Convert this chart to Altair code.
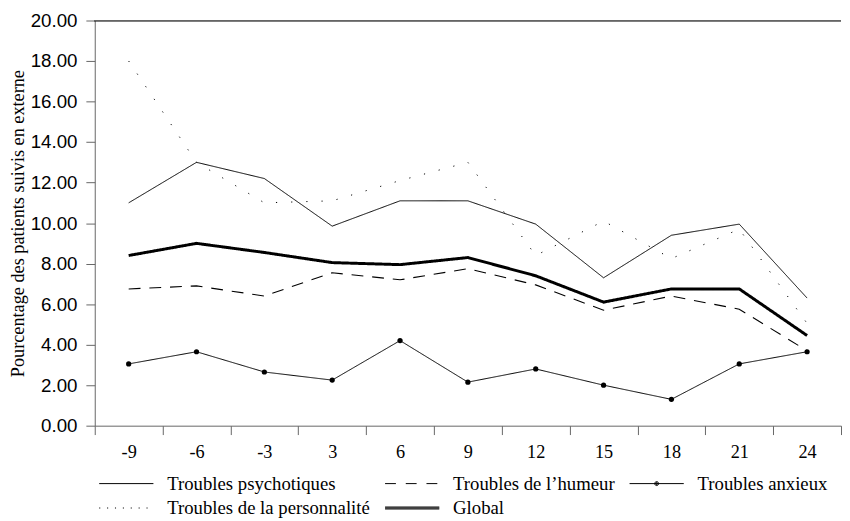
import altair as alt
import pandas as pd

months = ["-9", "-6", "-3", "3", "6", "9", "12", "15", "18", "21", "24"]
series_names = [
    "Troubles psychotiques",
    "Troubles de l\u2019humeur",
    "Troubles anxieux",
    "Troubles de la personnalit\u00e9",
    "Global",
]
psychotiques = [11.0, 13.0, 12.2, 9.85, 11.1, 11.1, 9.95, 7.3, 9.4, 9.95, 6.3]
humeur = [6.75, 6.9, 6.4, 7.55, 7.2, 7.75, 6.95, 5.7, 6.4, 5.75, 3.7]
anxieux = [3.05, 3.65, 2.65, 2.25, 4.2, 2.15, 2.8, 2.0, 1.3, 3.05, 3.65]
personnalite = [18.0, 13.0, 11.0, 11.1, 12.1, 13.0, 8.4, 10.1, 8.25, 9.7, 5.05]
global_ = [8.4, 9.0, 8.55, 8.05, 7.95, 8.3, 7.4, 6.1, 6.75, 6.75, 4.45]
y_ticks = [0, 2, 4, 6, 8, 10, 12, 14, 16, 18, 20]

values = [psychotiques, humeur, anxieux, personnalite, global_]
rows = []
for name, vals in zip(series_names, values):
    for m, v in zip(months, vals):
        rows.append({"mois": m, "valeur": v, "serie": name, "nom": name})
df = pd.DataFrame(rows)

dash_range = [[1, 0], [12, 9], [1, 0], [1.2, 14.2], [1, 0]]
width_range = [1, 1.1, 1, 1, 3]

# legend symbol paths, centred (unit = sqrt(size)/2 = 5 px)
dotted = "".join(f"M{-5.5 + i * 1.6:.2f},0h0.22" for i in range(7))
legend_paths = [
    "M-5.5,0H5.5",
    "M-5.5,0H-3.3M-1.3,0H0.9M2.9,0H5.1",
    "M-5.5,0H5.5"
    "M0.2,0a0.2,0.2 0 1,0 -0.4,0a0.2,0.2 0 1,0 0.4,0"
    "M0.4,0a0.4,0.4 0 1,0 -0.8,0a0.4,0.4 0 1,0 0.8,0",
    dotted,
    "M-5.5,-0.2H5.5M-5.5,0H5.5M-5.5,0.2H5.5",
]

x_enc = alt.X(
    "mois:N",
    sort=months,
    scale=alt.Scale(paddingInner=0, paddingOuter=0),
    axis=alt.Axis(
        title=None,
        labelAngle=0,
        tickBand="extent",
        tickSize=9,
        labelPadding=8,
        labelFont="Liberation Serif",
        labelFontSize=18.5,
    ),
)
y_enc = alt.Y(
    "valeur:Q",
    scale=alt.Scale(domain=[0, 20], nice=False),
    axis=alt.Axis(
        title="Pourcentage des patients suivis en externe",
        values=y_ticks,
        format=".2f",
        tickSize=9,
        labelPadding=9,
        grid=False,
        labelFont="Liberation Sans",
        labelFontSize=19,
        titleFont="Liberation Serif",
        titleFontSize=18.5,
        titleFontWeight="normal",
        titlePadding=3,
    ),
)

sw_scale = alt.Scale(type="ordinal", domain=series_names, range=width_range)

base = alt.Chart(df)

lines = base.mark_line(color="black").encode(
    x=x_enc,
    y=y_enc,
    strokeDash=alt.StrokeDash(
        "serie:N",
        scale=alt.Scale(domain=series_names, range=dash_range),
        legend=None,
    ),
    strokeWidth=alt.StrokeWidth("serie:N", scale=sw_scale, legend=None),
    detail="serie:N",
)

dots = base.transform_filter(
    alt.datum.serie == "Troubles anxieux"
).mark_circle(color="black", size=28, opacity=1).encode(x=x_enc, y=y_enc)

legend_layer = base.mark_point(
    filled=False, color="black", size=100, opacity=0, strokeWidth=1, clip=True
).encode(
    x=x_enc,
    y=y_enc,
    shape=alt.Shape(
        "nom:N",
        scale=alt.Scale(domain=series_names, range=legend_paths),
        legend=alt.Legend(
            title=None,
            orient="bottom",
            offset=13,
            direction="horizontal",
            columns=3,
            columnPadding=10,
            rowPadding=5,
            symbolOffset=22.5,
            labelOffset=32,
            labelFont="Liberation Serif",
            labelFontSize=19,
            labelColor="black",
            labelLimit=400,
            symbolStrokeColor="black",
            symbolStrokeWidth=1,
            symbolOpacity=1,
        ),
    ),
)

top_rule = alt.Chart(df).mark_rule(color="#666666", strokeWidth=1).encode(
    y=alt.datum(20)
)

chart = (
    alt.layer(top_rule, lines, dots, legend_layer)
    .resolve_legend(strokeWidth="independent", strokeDash="independent")
    .properties(
        width=757,
        height=411,
        padding={"left": 0, "top": 0, "right": 0, "bottom": 0},
    )
    .configure_view(stroke=None)
    .configure_axis(
        domainColor="#666666",
        tickColor="#666666",
        labelColor="black",
        titleColor="black",
    )
)

chart.save("out.html", embed_options={"renderer": "svg", "actions": False})
